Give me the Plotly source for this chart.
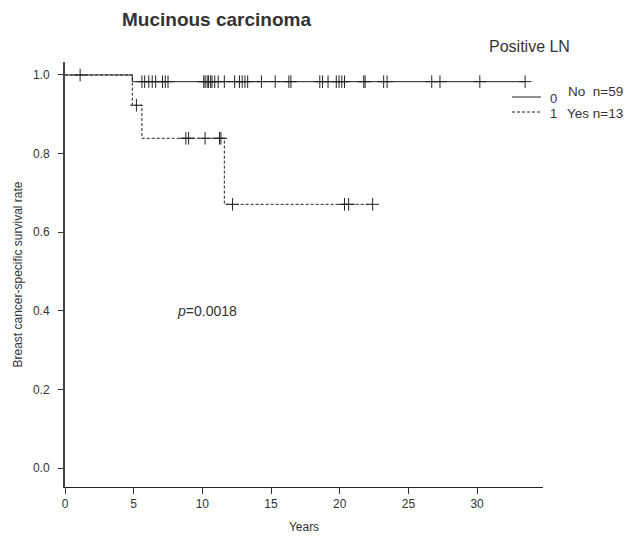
import plotly.graph_objects as go

# ---- data ----
g0_times = [0, 4.9, 33.5]
g0_surv = [1.0, 0.983, 0.983]
g0_censor = [1.1, 5.6, 5.8, 6.1, 6.35, 6.6, 7.1, 7.3, 7.5, 10.1, 10.2, 10.35, 10.45,
             10.6, 10.7, 10.9, 11.15, 11.6, 12.35, 12.7, 12.9, 13.1, 13.3, 14.3, 15.3,
             16.3, 16.45, 18.55, 18.75, 19.15, 19.75, 19.95, 20.15, 20.35, 21.75,
             21.85, 23.2, 23.45, 26.7, 27.3, 30.2, 33.5]

g1_times = [0, 4.9, 5.6, 11.6, 22.4]
g1_surv = [1.0, 0.923, 0.839, 0.671, 0.671]
g1_censor = [5.2, 8.8, 9.0, 10.2, 11.25, 11.35, 12.2, 20.35, 20.65, 22.4]

x_ticks = [0, 5, 10, 15, 20, 25, 30]
y_ticks = [0.0, 0.2, 0.4, 0.6, 0.8, 1.0]
legend_codes = ["0", "1"]
legend_names = ["No  n=59", "Yes n=13"]
p_text = "<i>p</i>=0.0018"


def surv_at(times, surv, t):
    s = surv[0]
    for ti, si in zip(times, surv):
        if ti <= t:
            s = si
    return s


FONT = "Liberation Sans, Arial, sans-serif"
TXT = "#333333"
LINE = "#222222"
DASH = "3px,2px"

fig = go.Figure()
for times, surv, censor, dash in [(g0_times, g0_surv, g0_censor, "solid"),
                                   (g1_times, g1_surv, g1_censor, DASH)]:
    fig.add_trace(go.Scatter(x=times, y=surv, mode="lines", line_shape="hv",
                             line=dict(color=LINE, width=1, dash=dash),
                             showlegend=False, hoverinfo="skip"))
    fig.add_trace(go.Scatter(x=censor, y=[surv_at(times, surv, t) for t in censor],
                             mode="markers",
                             marker=dict(symbol="cross-thin-open", size=9, color=LINE,
                                         line=dict(color=LINE, width=1)),
                             showlegend=False, hoverinfo="skip"))

# plot area pixels: x 65..543, y 62..487
L, R, T, B = 65, 543, 62, 487
W, H = 626, 539


def px(xp):
    return (xp - L) / (R - L)


def py(yp):
    return (B - yp) / (B - T)


# legend (drawn manually)
leg_y = [97, 112]
for i, code in enumerate(legend_codes):
    fig.add_shape(type="line", xref="paper", yref="paper",
                  x0=px(512), x1=px(541), y0=py(leg_y[i]), y1=py(leg_y[i]),
                  line=dict(color=LINE, width=1, dash="solid" if i == 0 else DASH))
    fig.add_annotation(x=px(553), y=py(leg_y[i] + 1), xref="paper", yref="paper",
                       text=code, showarrow=False, xanchor="center", yanchor="middle",
                       font=dict(family=FONT, size=13, color=TXT))
fig.add_annotation(x=px(625), y=py(91), xref="paper", yref="paper", text=legend_names[0],
                   showarrow=False, xanchor="right", yanchor="middle",
                   font=dict(family=FONT, size=13.5, color=TXT))
fig.add_annotation(x=px(625), y=py(113), xref="paper", yref="paper", text=legend_names[1],
                   showarrow=False, xanchor="right", yanchor="middle",
                   font=dict(family=FONT, size=13.5, color=TXT))

fig.add_annotation(x=px(487), y=py(47), xref="paper", yref="paper", text="Positive LN",
                   showarrow=False, xanchor="left", yanchor="middle",
                   font=dict(family=FONT, size=16, color=TXT))
fig.add_annotation(x=px(120), y=py(20), xref="paper", yref="paper", text="<b>Mucinous carcinoma</b>",
                   showarrow=False, xanchor="left", yanchor="middle",
                   font=dict(family=FONT, size=19, color=TXT))
fig.add_annotation(x=px(175), y=py(311), xref="paper", yref="paper", text=p_text,
                   showarrow=False, xanchor="left", yanchor="middle",
                   font=dict(family=FONT, size=14, color=TXT))

fig.update_layout(
    width=W, height=H,
    margin=dict(l=L, r=W - R, t=T, b=H - B, pad=0),
    paper_bgcolor="white", plot_bgcolor="white",
    font=dict(family=FONT, size=12, color=TXT),
    xaxis=dict(range=[0, 34.8], tickvals=x_ticks, ticks="outside", ticklen=6,
               tickcolor="#333333", showline=True, linecolor=LINE, linewidth=1,
               showgrid=False, zeroline=False, automargin=False,
               title=dict(text="Years", font=dict(size=12), standoff=12),
               tickfont=dict(size=12)),
    yaxis=dict(range=[-0.048, 1.033], tickvals=y_ticks, tickformat=".1f",
               ticks="outside", ticklen=5, tickcolor="#333333",
               showline=True, linecolor="#444444", linewidth=2,
               showgrid=False, zeroline=False, ticklabelstandoff=6, automargin=False,
               title=dict(text="Breast cancer-specific survival rate", font=dict(size=12), standoff=8),
               tickfont=dict(size=12)),
)

fig.write_html("out.html")
